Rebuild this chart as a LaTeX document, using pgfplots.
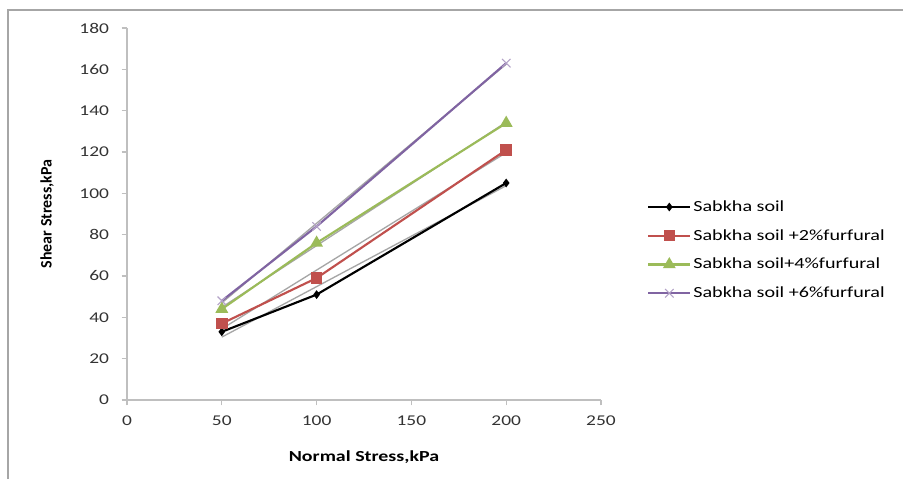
\documentclass[border=0pt]{standalone}
\usepackage{fontspec}
\usepackage{pgfplots}
\pgfplotsset{compat=1.18}
\newfontfamily\cf[FakeStretch=1.3]{Carlito}
\newfontfamily\cfr{Carlito}
\definecolor{sred}{HTML}{C0504D}
\definecolor{sgreen}{HTML}{9BBB59}
\definecolor{spurple}{HTML}{8064A2}
\definecolor{axgray}{HTML}{BFBFBF}
\definecolor{trgray}{HTML}{A6A6A6}
\begin{document}
\begin{tikzpicture}
\coordinate (axpos) at (95.25pt,59.25pt);
\draw[gray!70, line width=1pt] (6pt,0pt) -- (6pt,351.75pt) -- (677.25pt,351.75pt);
\begin{axis}[
  at={(axpos)}, anchor=south west,
  scale only axis, width=355.5pt, height=279pt,
  xmin=0, xmax=250, ymin=0, ymax=180,
  xtick={0,50,100,150,200,250},
  ytick={0,20,...,180},
  axis lines*=left,
  axis line style={axgray, line width=0.8pt},
  tick style={axgray, line width=0.8pt},
  tick align=outside,
  major tick length=4pt,
  /pgf/number format/assume math mode=true,
  tick label style={font=\cf\fontsize{11.2}{13}\selectfont, text=black!80},
  yticklabel style={xshift=-6pt},
  xticklabel style={yshift=-4pt},
  xlabel={\cf\bfseries\fontsize{11.5}{13}\selectfont Normal Stress,kPa},
  ylabel={\cfr\bfseries\fontsize{12}{13}\selectfont Shear Stress,kPa},
  xlabel style={at={(axis description cs:0.5,0)}, anchor=center, yshift=-43pt},
  ylabel style={at={(axis description cs:0,0.5)}, anchor=center, rotate=0, yshift=60pt},
  legend style={at={(1.097,0.542)}, anchor=north west, draw=none, fill=none,
    font=\cf\fontsize{11.6}{13}\selectfont, row sep=9pt, inner sep=0pt,
    nodes={inner sep=1.5pt}},
  legend cell align=left,
  legend image code/.code={\draw[mark repeat=2,mark phase=2] plot coordinates {(0pt,0pt)(15.75pt,0pt)(31.5pt,0pt)};},
  clip=false,
]
% linear trendlines (gray)
\addplot[trgray, line width=1pt, forget plot] coordinates {(50,30.43) (200,103.71)};
\addplot[trgray, line width=1pt, forget plot] coordinates {(50,34.43) (200,119.71)};
\addplot[trgray, line width=1pt, forget plot] coordinates {(50,44.86) (200,134.43)};
\addplot[trgray, line width=1pt, forget plot] coordinates {(50,47.0) (200,162.5)};
% data
\addplot[black, line width=1.6pt, mark=diamond*, mark size=2pt] coordinates {(50,33) (100,51) (200,105)};
\addlegendentry{Sabkha soil}
\addplot[sred, line width=1.6pt, mark=square*, mark size=3.5pt, mark options={solid}] coordinates {(50,37) (100,59) (200,121)};
\addlegendentry{Sabkha soil +2\%furfural}
\addplot[sgreen, line width=1.6pt, mark=triangle*, mark size=4pt] coordinates {(50,44) (100,76) (200,134)};
\addlegendentry{Sabkha soil+4\%furfural}
\addplot[spurple, line width=1.6pt, mark=x, mark size=4.5pt, mark options={line width=0.8pt, spurple!60}] coordinates {(50,48) (100,84) (200,163)};
\addlegendentry{Sabkha soil +6\%furfural}
\end{axis}
\pgfresetboundingbox
\path[use as bounding box] (0pt,0pt) rectangle (677.25pt,359.25pt);
\end{tikzpicture}
\end{document}
